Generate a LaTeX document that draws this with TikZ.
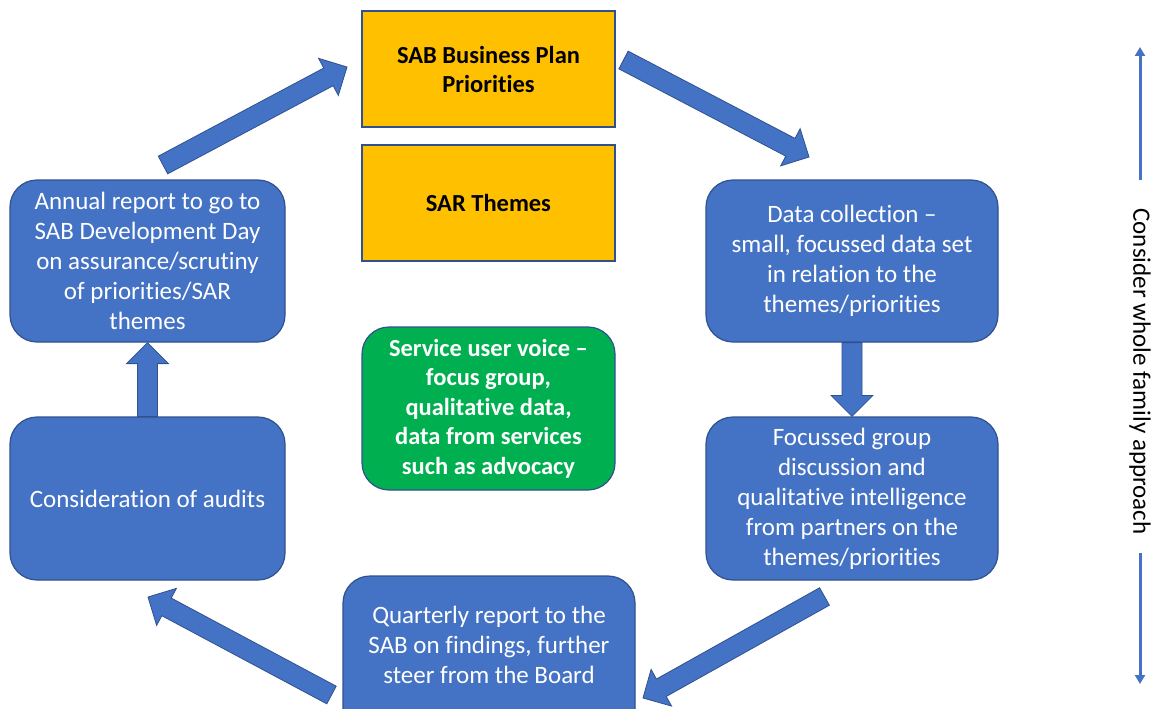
\documentclass[tikz,border=0pt]{standalone}
\usepackage{fontspec}
\setmainfont{Carlito}[Ligatures=NoCommon]
\usetikzlibrary{calc,arrows.meta}
\definecolor{cblue}{HTML}{4472C4}
\definecolor{cborder}{HTML}{2F528F}
\definecolor{cgold}{HTML}{FFC000}
\definecolor{cgreen}{HTML}{00B050}
\tikzset{
  box/.style={draw=cborder, line width=1.2pt, align=center, inner sep=0pt,
    font=\fontsize{25}{30}\selectfont},
  bluebox/.style={box, rounded corners=27pt, fill=cblue, text=white},
  greenbox/.style={box, rounded corners=27pt, fill=cgreen, text=white, font=\fontsize{24.5}{29.5}\selectfont\bfseries},
  goldbox/.style={box, fill=cgold, text=black, font=\fontsize{24.5}{29}\selectfont\bfseries},
  barrow/.style={fill=cblue, draw=cborder, line width=0.8pt, line join=miter},
  vline/.style={draw=cblue, line width=3pt},
}
\newcommand\blockarrow[2]{%
  \coordinate (ba-h) at ($(#2)!21pt!(#1)$);
  \filldraw[barrow] ($(#1)!10pt!90:(#2)$) -- ($(ba-h)!10pt!90:(#2)$)
    -- ($(ba-h)!21pt!90:(#2)$) -- (#2) -- ($(ba-h)!21pt!-90:(#2)$)
    -- ($(ba-h)!10pt!-90:(#2)$) -- ($(#1)!10pt!-90:(#2)$) -- cycle;
}
\begin{document}
\begin{tikzpicture}[x=1pt,y=-1pt]
\useasboundingbox (0,0) rectangle (1152,709);
\begin{scope}
\clip (0,0) rectangle (1152,709);
% boxes
\node[goldbox, minimum width=253pt, minimum height=116pt] (sab) at (488.5,69) {SAB Business Plan\\Priorities};
\node[goldbox, minimum width=253pt, minimum height=116pt] (sar) at (488.5,203) {SAR Themes};
\node[greenbox, minimum width=253pt, minimum height=163pt] (voice) at (488.5,408.5)
  {Service user voice --\\focus group,\\qualitative data,\\data from services\\such as advocacy};
\node[bluebox, minimum width=275pt, minimum height=162pt] (annual) at (147.5,261)
  {Annual report to go to\\SAB Development Day\\on assurance/scrutiny\\of priorities/SAR\\themes};
\node[bluebox, minimum width=275pt, minimum height=163pt] (audits) at (147.5,498.5)
  {Consideration of audits};
\node[bluebox, minimum width=292pt, minimum height=162pt] (data) at (852,261)
  {Data collection --\\small, focussed data set\\in relation to the\\themes/priorities};
\node[bluebox, minimum width=292pt, minimum height=163pt] (focus) at (852,498.5)
  {Focussed group\\discussion and\\qualitative intelligence\\from partners on the\\themes/priorities};
\node[bluebox, minimum width=292pt, minimum height=162pt] (quarter) at (489,657) {};
\node[text=white, align=center, inner sep=0pt, font=\fontsize{25}{30}\selectfont] (qtext) at (489,645)
  {Quarterly report to the\\SAB on findings, further\\steer from the Board};
% block arrows
\coordinate (a1s) at (163,165);
\coordinate (a1e) at (347,67);
\coordinate (a2s) at (623.5,60);
\coordinate (a2e) at (809,157);
\coordinate (a3s) at (824.5,596.5);
\coordinate (a3e) at (643,698);
\coordinate (a4s) at (331.5,695);
\coordinate (a4e) at (148,597);
\blockarrow{a1s}{a1e}
\blockarrow{a2s}{a2e}
\blockarrow{a3s}{a3e}
\blockarrow{a4s}{a4e}
\blockarrow{data.south}{focus.north}
\blockarrow{audits.north}{annual.south}
% side text
\node[rotate=-90, inner sep=0pt, font=\fontsize{25}{30}\selectfont] (vt) at (1140,371.5) {Consider whole family approach};
\coordinate (vtop) at (1140,47);
\coordinate (vbot) at (1140,684);
\draw[vline, shorten <=28pt, -{Triangle[length=9pt,width=10pt]}] (vt.west) -- (vtop);
\draw[vline, shorten <=18pt, -{Triangle[length=9pt,width=10pt]}] (vt.east) -- (vbot);
\end{scope}
\end{tikzpicture}
\end{document}
